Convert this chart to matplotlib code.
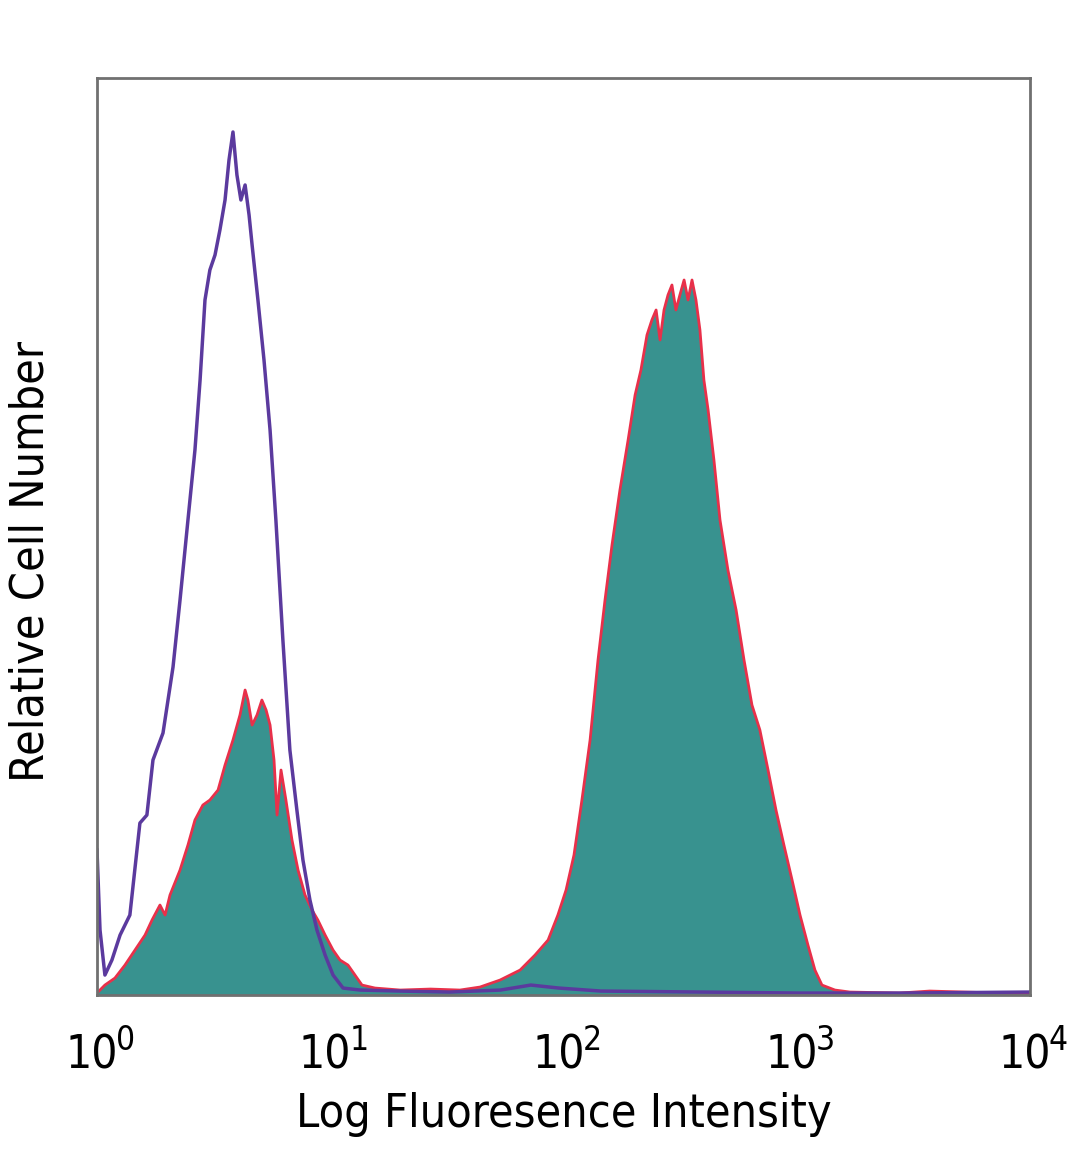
import numpy as np
import matplotlib.pyplot as plt
from matplotlib import font_manager
from matplotlib.transforms import offset_copy

# isotype control (open purple histogram), x as log10 intensity
iso_log = np.array([0.0, 0.013, 0.034, 0.064, 0.099, 0.141, 0.184, 0.214, 0.240, 0.283,
                    0.326, 0.356, 0.390, 0.420, 0.442, 0.463, 0.484, 0.506, 0.527, 0.549,
                    0.566, 0.583, 0.600, 0.617, 0.635, 0.652, 0.665, 0.690, 0.716, 0.742,
                    0.767, 0.797, 0.827, 0.857, 0.883, 0.913, 0.943, 0.978, 1.012, 1.055,
                    1.128, 1.30, 1.51, 1.73, 1.86, 1.98, 2.16, 2.59, 3.01, 3.44, 4.0])
iso_cnt = np.array([145, 65, 20, 35, 60, 80, 172, 180, 235, 262,
                    328, 395, 475, 545, 615, 695, 725, 740, 765, 795,
                    835, 863, 820, 795, 810, 780, 750, 695, 635, 565,
                    475, 355, 245, 185, 135, 95, 65, 40, 20, 7,
                    5, 4, 3, 5, 10, 7, 4, 3, 2, 2, 3])

# stained sample (filled teal histogram)
stn_log = np.array([0.0, 0.034, 0.077, 0.120, 0.163, 0.206, 0.236, 0.270, 0.292, 0.313,
                    0.356, 0.390, 0.420, 0.454, 0.484, 0.519, 0.549, 0.583, 0.613, 0.635,
                    0.647, 0.665, 0.686, 0.707, 0.725, 0.742, 0.759, 0.772, 0.789, 0.810,
                    0.836, 0.862, 0.892, 0.922, 0.947, 0.978, 1.012, 1.042, 1.076, 1.106,
                    1.136, 1.192, 1.30, 1.43, 1.556, 1.642, 1.728, 1.814, 1.878, 1.934,
                    1.976, 2.011, 2.045, 2.079, 2.114, 2.148, 2.178, 2.208, 2.242, 2.277,
                    2.307, 2.332, 2.358, 2.379, 2.397, 2.414, 2.431, 2.448, 2.465, 2.482,
                    2.499, 2.517, 2.534, 2.551, 2.568, 2.585, 2.602, 2.620, 2.645, 2.671,
                    2.705, 2.740, 2.774, 2.808, 2.842, 2.877, 2.911, 2.945, 2.980, 3.014,
                    3.048, 3.078, 3.108, 3.164, 3.228, 3.44, 3.57, 3.87, 4.0])
stn_cnt = np.array([2, 10, 17, 30, 45, 60, 75, 90, 80, 100,
                    125, 150, 175, 190, 195, 205, 230, 255, 280, 305,
                    295, 270, 280, 295, 285, 270, 235, 180, 225, 195,
                    155, 125, 100, 85, 75, 60, 45, 35, 30, 20,
                    10, 7, 5, 6, 5, 8, 15, 25, 40, 55,
                    80, 105, 140, 195, 255, 335, 395, 450, 505, 555,
                    600, 625, 660, 675, 685, 655, 685, 700, 710, 685,
                    700, 715, 695, 715, 695, 665, 615, 585, 535, 475,
                    425, 385, 335, 290, 265, 225, 185, 150, 115, 80,
                    50, 25, 10, 5, 3, 2, 4, 2, 2])

tick_vals = [1, 10, 100, 1000, 10000]
tick_exps = ['0', '1', '2', '3', '4']

iso_x = 10 ** iso_log
stn_x = 10 ** stn_log


def cfont(size):
    return font_manager.FontProperties(family='DejaVu Sans', stretch='condensed', size=size)


fig = plt.figure(figsize=(10.8, 11.69), dpi=100)
ax = fig.add_axes([0.0898, 0.1488, 0.8639, 0.7845])

ax.fill_between(stn_x, 0, stn_cnt, color='#38928f', linewidth=0)
ax.plot(stn_x, stn_cnt, color='#e8304a', linewidth=2)
ax.plot(iso_x, iso_cnt, color='#5b3a9e', linewidth=2.5)

ax.set_xscale('log')
ax.set_xlim(1, 1e4)
ax.set_ylim(0, 917)
ax.set_xticks(tick_vals)
ax.set_xticklabels([])
ax.minorticks_off()
ax.set_yticks([])
ax.tick_params(axis='x', length=0)
for s in ax.spines.values():
    s.set_color('#707070')
    s.set_linewidth(2)

# decade labels: "10" with a raised exponent
trans = ax.get_xaxis_transform()
base_tr = offset_copy(trans, fig=fig, x=-5, y=0, units='dots')
exp_tr = offset_copy(trans, fig=fig, x=19, y=0, units='dots')
for v, e in zip(tick_vals, tick_exps):
    ax.text(v, -0.0796, '10', transform=base_tr, ha='center', va='baseline',
            fontproperties=cfont(33))
    ax.text(v, -0.060, e, transform=exp_tr, ha='left', va='baseline',
            fontproperties=cfont(24))

ax.set_xlabel('Log Fluoresence Intensity', fontproperties=cfont(33.5))
ax.xaxis.label.set_va('baseline')
ax.xaxis.set_label_coords(0.5, -0.144)

ax.set_ylabel('Relative Cell Number', fontproperties=cfont(33.5))
ax.yaxis.label.set(ha='center', va='center', rotation_mode='default')
ax.yaxis.set_label_coords(-0.0707, 0.473)

fig.savefig('out.png', dpi=100)
